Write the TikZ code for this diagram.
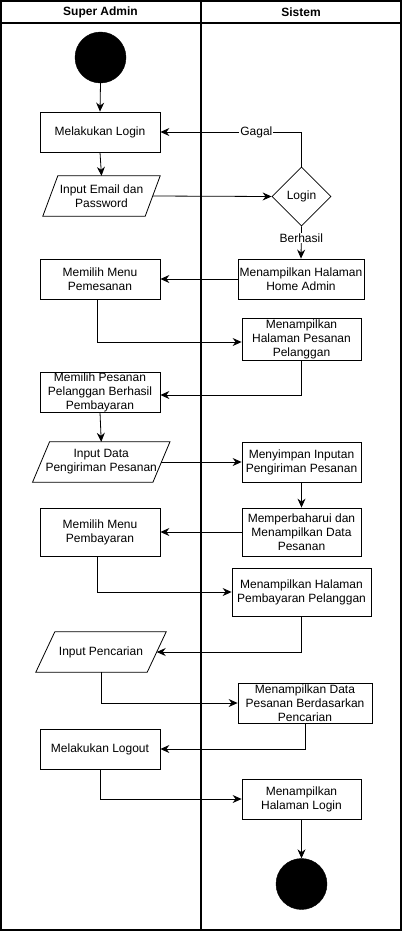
\documentclass[tikz,border=0pt]{standalone}
\usepackage{fontspec}
\setmainfont{Liberation Sans}
\usetikzlibrary{arrows.meta,shapes.geometric,calc}
\begin{document}
\begin{tikzpicture}[x=1pt,y=-1pt,
  every node/.style={font=\fontsize{12}{14}\selectfont},
  lane/.style={line width=1.6pt},
  act/.style={draw, line width=0.8pt, rectangle, inner sep=0pt, align=center, minimum height=40pt},
  iobox/.style={rectangle, inner sep=0pt, align=center, minimum height=40pt},
  dot/.style={circle, fill=black, draw=black, minimum size=51pt, inner sep=0pt},
  dec/.style={draw, line width=0.8pt, diamond, aspect=1, minimum width=59pt, minimum height=59pt, inner sep=0pt},
  arr/.style={line width=0.8pt, -{Stealth[length=9pt,width=8pt,inset=3pt]}},
  lbl/.style={fill=white, inner sep=1pt}
]
\useasboundingbox (0,0) rectangle (403,932);
% swimlanes
\draw[lane] (1,1) rectangle (401,930);
\draw[lane] (201,1) -- (201,930);
\draw[line width=1.2pt] (1,23) -- (401,23);
\node[font=\fontsize{12}{14}\selectfont\bfseries] (h1) at (100.5,12) {Super Admin};
\node[font=\fontsize{12}{14}\selectfont\bfseries] (h2) at (301,12) {Sistem};

% nodes
\node[dot] (start) at (100.5,57.5) {};
\node[act, minimum width=120pt] (login) at (100,132) {Melakukan Login};
\node[iobox, minimum width=102pt] (email) at (101.5,196) {Input Email dan\\Password};
\draw[line width=0.8pt] ($(email.north west)+(7.5,0)$) -- ($(email.north east)+(7.5,0)$) -- ($(email.south east)+(-7.5,0)$) -- ($(email.south west)+(-7.5,0)$) -- cycle;
\node[dec] (dlogin) at (301.5,196.5) {Login};
\node[act, minimum width=126pt] (home) at (301,279) {Menampilkan Halaman\\Home Admin};
\node[act, minimum width=120pt] (menu1) at (100,279) {Memilih Menu\\Pemesanan};
\node[act, minimum width=119pt, minimum height=42pt] (pesanan) at (301.5,339) {Menampilkan\\Halaman Pesanan\\Pelanggan};
\node[act, minimum width=120pt] (pilih) at (100,392) {Memilih Pesanan\\Pelanggan Berhasil\\Pembayaran};
\node[iobox, minimum width=120pt] (inputdata) at (101.25,462) {Input Data\\Pengiriman Pesanan};
\draw[line width=0.8pt] ($(inputdata.north west)+(8.5,0)$) -- ($(inputdata.north east)+(8.5,0)$) -- ($(inputdata.south east)+(-8.5,0)$) -- ($(inputdata.south west)+(-8.5,0)$) -- cycle;
\node[act, minimum width=119pt] (simpan) at (301.5,462) {Menyimpan Inputan\\Pengiriman Pesanan};
\node[act, minimum width=119pt, minimum height=48pt] (update) at (301.5,532) {Memperbaharui dan\\Menampilkan Data\\Pesanan};
\node[act, minimum width=120pt, minimum height=48pt] (bayar) at (100,532) {Memilih Menu\\Pembayaran};
\node[act, minimum width=139pt, minimum height=48pt] (halbayar) at (301.5,592) {Menampilkan Halaman\\Pembayaran Pelanggan};
\node[iobox, minimum width=111pt] (cari) at (101,652) {Input Pencarian};
\draw[line width=0.8pt] ($(cari.north west)+(9.5,0)$) -- ($(cari.north east)+(9.5,0)$) -- ($(cari.south east)+(-9.5,0)$) -- ($(cari.south west)+(-9.5,0)$) -- cycle;
\node[act, minimum width=134pt] (hasil) at (305,703) {Menampilkan Data\\Pesanan Berdasarkan\\Pencarian};
\node[act, minimum width=120pt] (logout) at (100,749) {Melakukan Logout};
\node[act, minimum width=119pt] (hallogin) at (301.5,799) {Menampilkan\\Halaman Login};
\node[dot] (end) at (301.5,884) {};

% connectors
\draw[arr] (start.south) -- (login.north);
\draw[arr] (login.south) -- (email.north);
\draw[arr] (email.east) -- (dlogin.west);
\draw[arr] (dlogin.north) |- node[lbl, pos=0.66] {Gagal} (login.east);
\draw[arr] (dlogin.south) -- node[lbl, pos=0.36] {Berhasil} (home.north);
\draw[arr] (home.west) -- (menu1.east);
\draw[arr] ($(menu1.south)+(-3,0)$) |- ($(pesanan.west)+(0,3)$);
\draw[arr] (pesanan.south) |- ($(pilih.east)+(0,3)$);
\draw[arr] (pilih.south) -- (inputdata.north);
\draw[arr] (inputdata.east) -- (simpan.west);
\draw[arr] (simpan.south) -- (update.north);
\draw[arr] (update.west) -- (bayar.east);
\draw[arr] ($(bayar.south)+(-3,0)$) |- (halbayar.west);
\draw[arr] (halbayar.south) |- (cari.east);
\draw[arr] (cari.south) |- (hasil.west);
\draw[arr] (hasil.south) |- (logout.east);
\draw[arr] (logout.south) |- (hallogin.west);
\draw[arr] (hallogin.south) -- (end.north);
\end{tikzpicture}
\end{document}
